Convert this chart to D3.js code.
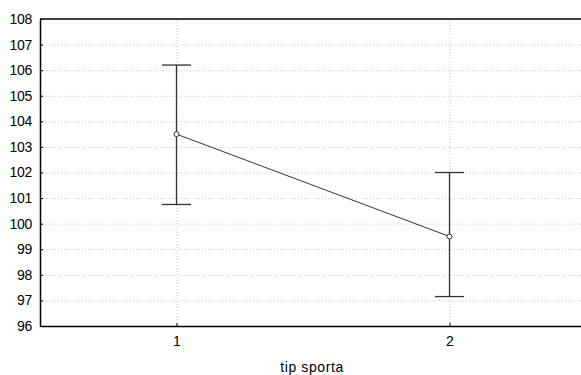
<!DOCTYPE html>
<html><head><meta charset="utf-8">
<script src="https://cdn.jsdelivr.net/npm/d3@7"></script>
<style>body{margin:0;background:#fff}svg{display:block}</style>
</head><body><svg id="c" width="581" height="375"></svg>
<script>
const categories = [1, 2];
const means = [103.5, 99.5];
const upper = [106.2, 102.0];
const lower = [100.75, 97.15];
const yTicks = [96,97,98,99,100,101,102,103,104,105,106,107,108];
const xLabel = "tip sporta";

const svg = d3.select("#c");
const L = 40, T = 19, B = 326, step = 273;
const x = d3.scaleLinear().domain([0.5, 2.5]).range([L, L + 2*step]);
const y = d3.scaleLinear().domain([96, 108]).range([B, T]);
const font = "Liberation Sans, Arial, sans-serif";

// grid
svg.append("g").selectAll("line").data(yTicks.slice(1, -1)).join("line")
  .attr("x1", L).attr("x2", 581).attr("y1", d => y(d) + 0.5).attr("y2", d => y(d) + 0.5)
  .attr("stroke", "#c8c8c8").attr("stroke-dasharray", "1,2");
svg.append("g").selectAll("line").data(categories).join("line")
  .attr("x1", d => x(d) + 0.5).attr("x2", d => x(d) + 0.5).attr("y1", T).attr("y2", B)
  .attr("stroke", "#c8c8c8").attr("stroke-dasharray", "1,2");

// axes
const ya = svg.append("g").attr("transform", `translate(${L},0)`)
  .call(d3.axisLeft(y).tickValues(yTicks).tickSizeInner(-3).tickSizeOuter(0).tickPadding(8).tickFormat(d3.format("d")));
ya.select(".domain").attr("stroke", "#000").attr("stroke-width", 1.5);
ya.selectAll("text").attr("font-family", font).attr("font-size", 14).attr("letter-spacing", -0.3).attr("fill", "#000");
const xa = svg.append("g").attr("transform", `translate(0,${B})`)
  .call(d3.axisBottom(x).tickValues(categories).tickSizeInner(-3).tickSizeOuter(0).tickPadding(10).tickFormat(d3.format("d")));
xa.select(".domain").attr("stroke", "#000").attr("stroke-width", 1.5);
xa.selectAll("text").attr("font-family", font).attr("font-size", 14).attr("fill", "#000");
// top border
svg.append("line").attr("x1", L).attr("x2", 581).attr("y1", T).attr("y2", T).attr("stroke", "#000").attr("stroke-width", 1.5);

// error bars
const eb = svg.append("g").attr("stroke", "#333").attr("stroke-width", 1.3);
categories.forEach((c, i) => {
  eb.append("line").attr("x1", x(c)).attr("x2", x(c)).attr("y1", y(upper[i])).attr("y2", y(lower[i]));
  eb.append("line").attr("x1", x(c) - 14.5).attr("x2", x(c) + 14.5).attr("y1", y(upper[i])).attr("y2", y(upper[i]));
  eb.append("line").attr("x1", x(c) - 14.5).attr("x2", x(c) + 14.5).attr("y1", y(lower[i])).attr("y2", y(lower[i]));
});

// mean line
svg.append("path").datum(categories.map((c, i) => [x(c), y(means[i])]))
  .attr("d", d3.line()).attr("fill", "none").attr("stroke", "#333").attr("stroke-width", 1);
svg.append("g").selectAll("circle").data(categories).join("circle")
  .attr("cx", d => x(d)).attr("cy", (d, i) => y(means[i])).attr("r", 2.5)
  .attr("fill", "#fff").attr("stroke", "#333").attr("stroke-width", 1);

svg.append("text").attr("x", 312).attr("y", 372).attr("text-anchor", "middle")
  .attr("font-family", font).attr("font-size", 14).attr("letter-spacing", 0.6).text(xLabel);
</script></body></html>
